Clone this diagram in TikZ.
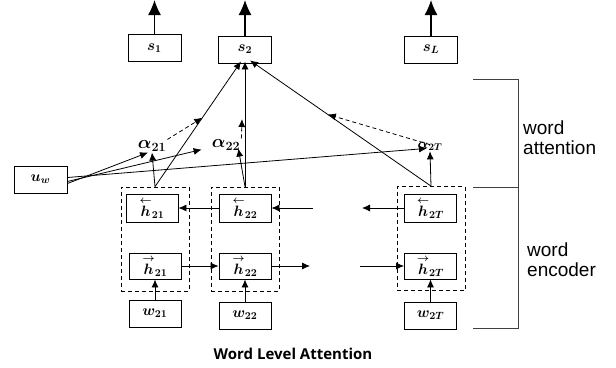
\documentclass[tikz,border=0pt]{standalone}
\usepackage{fix-cm}
\usepackage{amsmath}
\usepackage{fontspec}
\newfontfamily\arialfont{Liberation Sans}
\newfontfamily\titlefont{Open Sans}
\usetikzlibrary{arrows.meta,calc}

\begin{document}
\begin{tikzpicture}[x=1pt,y=-1pt,
        box/.style={draw,line width=0.9pt,inner sep=0pt,minimum width=53pt,
          minimum height=27pt,font=\boldmath\fontsize{15}{17}\selectfont},
        grp/.style={draw,line width=0.8pt,dash pattern=on 4pt off 3pt,
          inner sep=0pt,minimum width=68pt,minimum height=104pt},
        lab/.style={inner sep=1pt,font=\boldmath\fontsize{18}{20}\selectfont},
        arr/.style={-{Latex[length=8pt,width=7pt]},line width=0.8pt},
        bigarr/.style={-{Latex[length=15pt,width=13pt]},line width=1.2pt},
        att/.style={arr,dash pattern=on 4pt off 3pt},
        brk/.style={line width=1pt,black!75},
        note/.style={anchor=west,align=left,inner sep=0pt,
          font=\arialfont\fontsize{19}{20}\selectfont}]
        \useasboundingbox (0,0) rectangle (616,367) ;
        % sentence outputs
        \node[box] (s1) at (154.5,48) {$s_1$} ;
        \node[box] (s2) at (245,49.5) {$s_2$} ;
        \node[box] (sL) at (431,49.5) {$s_L$} ;
        \coordinate (o1) at (154.5,0) ;
        \coordinate (o2) at (245,0) ;
        \coordinate (oL) at (431,0) ;
        \draw[bigarr] (s1) -- (o1) ;
        \draw[bigarr] (s2) -- (o2) ;
        \draw[bigarr] (sL) -- (oL) ;
        % context vector
        \node[box] (uw) at (40.5,179.5) {$u_w$} ;
        % groups
        \node[grp] (d1) at (155,239) {} ;
        \node[grp] (d2) at (245,239) {} ;
        \node[grp] (d3) at (431,238.5) {} ;
        % backward states
        \node[box,minimum width=52pt,minimum height=28pt] (hb21) at (152,208) {$\overset{\leftarrow}{h}_{21}$} ;
        \node[box,minimum width=52pt,minimum height=28pt] (hb22) at (245,208) {$\overset{\leftarrow}{h}_{22}$} ;
        \node[box,minimum width=52pt,minimum height=28pt] (hb2T) at (430.5,208) {$\overset{\leftarrow}{h}_{2T}$} ;
        % forward states
        \node[box,minimum width=52pt,minimum height=26pt] (hf21) at (155,266) {$\overset{\rightarrow}{h}_{21}$} ;
        \node[box,minimum width=52pt,minimum height=26pt] (hf22) at (245,266) {$\overset{\rightarrow}{h}_{22}$} ;
        \node[box,minimum width=52pt,minimum height=26pt] (hf2T) at (430.5,266) {$\overset{\rightarrow}{h}_{2T}$} ;
        % words
        \node[box,minimum width=52pt] (w21) at (155,313.5) {$w_{21}$} ;
        \node[box,minimum width=52pt] (w22) at (245,315.5) {$w_{22}$} ;
        \node[box,minimum width=52pt] (w2T) at (430.5,315.5) {$w_{2T}$} ;
        \draw[arr] (w21) -- (hf21) ;
        \draw[arr] (w22) -- (hf22) ;
        \draw[arr] (w2T) -- (hf2T) ;
        % recurrent links
        \coordinate (bin) at (313,208) ;
        \coordinate (bout) at (362,208) ;
        \coordinate (fout) at (310,266) ;
        \coordinate (fin) at (360,266) ;
        \draw[arr] (hb22) -- (hb21) ;
        \draw[arr] (bin) -- (hb22) ;
        \draw[arr] (hb2T) -- (bout) ;
        \draw[arr] (hf21) -- (hf22) ;
        \draw[arr] (hf22) -- (fout) ;
        \draw[arr] (fin) -- (hf2T) ;
        % attention weights
        \node[lab] (a21) at (152,146) {$\alpha_{21}$} ;
        \node[lab] (a22) at (226,145) {$\alpha_{22}$} ;
        \node[lab,font=\boldmath\fontsize{14}{16}\selectfont] (a2T) at (430,146) {$\alpha_{2T}$} ;
        \draw[arr] ([yshift=-4pt]uw.east) -- ([xshift=-4pt]a21.south) ;
        \draw[arr] ([yshift=-2pt]uw.east) -- ([xshift=-9pt,yshift=2pt]a22.south west) ;
        \draw[arr] ([yshift=2pt]uw.east) -- ([xshift=-3pt,yshift=3pt]a2T.south) ;
        \draw[arr] (d1.north) -- (a21.south) ;
        \draw[arr] (d2.north) -- ([xshift=-3pt,yshift=3pt]a22.south east) ;
        \draw[arr] (d3.north) -- (a2T.south) ;
        % to sentence vector
        \draw[arr] (d1.north) -- ([xshift=-4pt,yshift=2pt]s2.south) ;
        \draw[arr] (d2.north) -- ([yshift=2pt]s2.south) ;
        \draw[arr] (d3.north) -- ([xshift=5pt,yshift=3pt]s2.south) ;
        \draw[att] (a21.north east) -- ($(d1.north)!0.55!([xshift=-4pt,yshift=2pt]s2.south)$) ;
        \draw[att] (a22.north east) -- ($(d2.north)!0.54!([yshift=2pt]s2.south)+(-3,0)$) ;
        \draw[att] ([yshift=-4pt]a2T.north) -- ($(d3.north)!0.57!([xshift=5pt,yshift=3pt]s2.south)$) ;
        % brackets
        \draw[brk] (473,79) -- (518,79) -- (518,328) -- (473,328) ;
        \draw[brk] (473,187) -- (518,187) ;
        \node[note] (watt) at (523,138) {word\\attention} ;
        \node[note] (wenc) at (527,259.5) {word\\encoder} ;
        \node[font=\titlefont\bfseries\fontsize{15}{18}\selectfont] (title) at (293,354) {Word Level Attention} ;
\end{tikzpicture}
\end{document}
